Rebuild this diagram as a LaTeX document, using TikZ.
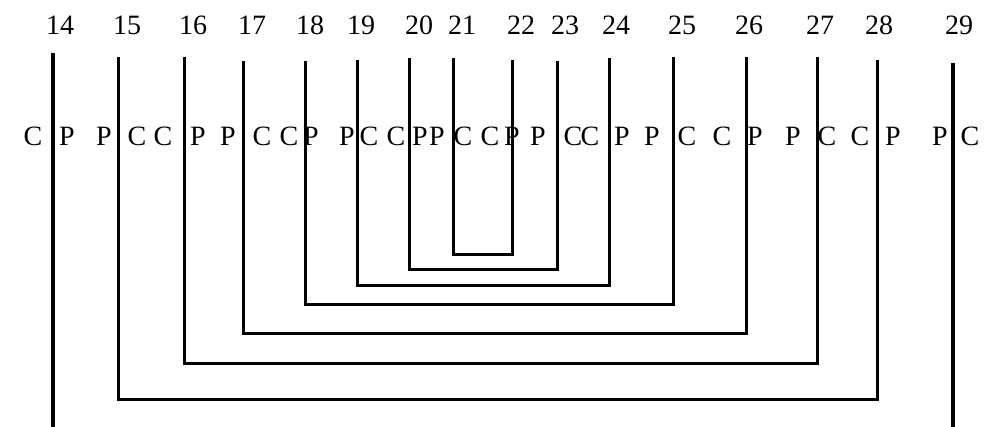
\documentclass[tikz,border=0pt]{standalone}
\usepackage{fontspec}
\setmainfont{Liberation Serif}
\tikzset{
  num/.style={font=\fontsize{28}{28}\selectfont, inner sep=0pt},
  lab/.style={font=\fontsize{28}{28}\selectfont, inner sep=0pt},
  bar/.style={line width=3pt, line join=miter},
  endbar/.style={line width=4pt},
}
\begin{document}
\begin{tikzpicture}[x=1pt, y=-1pt]
\useasboundingbox (0,0) rectangle (984,427);

% ═══════════════════════════════════════════════════════════════
% strands: top point, number above, end letters either side
% ═══════════════════════════════════════════════════════════════
\foreach \n/\x/\t/\nx/\lx/\la/\rx/\ra in {
    14/53/53/60/33/C/67/P,
    15/118/57/127/104/P/137/C,
    16/184/57/193/163/C/198/P,
    17/243/61/252/228/P/262/C,
    18/305/61/310/289/C/311/P,
    19/357/60/361/347/P/369/C,
    20/409/58/419/396/C/420/P,
    21/453/58/462/437/P/463/C,
    22/512/60/521/490/C/512/P,
    23/557/61/565/538/P/573/C,
    24/609/58/616/590/C/622/P,
    25/673/57/682/652/P/687/C,
    26/746/57/749/722/C/755/P,
    27/817/57/820/793/P/827/C,
    28/877/60/879/860/C/893/P,
    29/953/63/959/940/P/970/C}{
  \coordinate (t\n) at (\x,\t);
  \node[num] (n\n) at (\nx,25) {\n};
  \node[lab] (l\n) at (\lx,136) {\la};
  \node[lab] (r\n) at (\rx,136) {\ra};
}

% outer strands run to the bottom edge
\coordinate (b14) at (53,427);
\coordinate (b29) at (953,427);
\draw[endbar] (t14) -- (b14);
\draw[endbar] (t29) -- (b29);

% ═══════════════════════════════════════════════════════════════
% nested pairings
% ═══════════════════════════════════════════════════════════════
\foreach \a/\b/\y in {21/22/255, 20/23/270, 19/24/286, 18/25/304,
                      17/26/333, 16/27/363, 15/28/399}{
  \draw[bar] (t\a) -- (t\a |- 0,\y) -- (t\b |- 0,\y) -- (t\b);
}

\end{tikzpicture}
\end{document}
